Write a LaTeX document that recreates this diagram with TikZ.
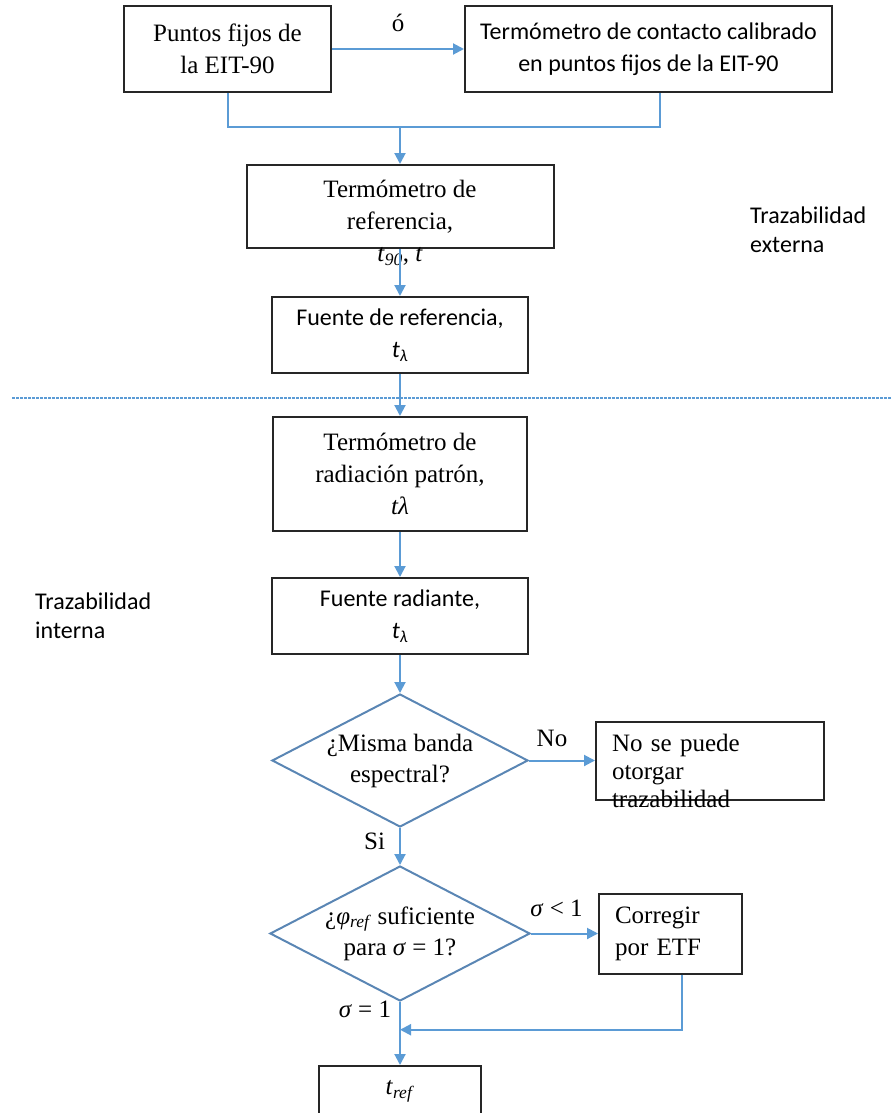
\documentclass[tikz,border=0pt]{standalone}
\usepackage{fontspec}
\setmainfont{Liberation Serif}
\newfontfamily\calibri{Carlito}
\usetikzlibrary{arrows.meta,positioning,shapes.geometric,calc}
\definecolor{linkblue}{HTML}{5B9BD5}
\definecolor{diagblue}{HTML}{5A86B4}
\definecolor{boxgray}{HTML}{262626}
\newcommand{\tsub}[1]{\textit{t}\textsubscript{\textit{#1}}}

\begin{document}
\begin{tikzpicture}[
  x=1pt, y=1pt,
  serifbox/.style={draw=boxgray, line width=2pt, inner sep=0pt,
                   font=\fontsize{25}{32}\selectfont, align=center},
  sansbox/.style={draw=boxgray, line width=2pt, inner sep=0pt,
                  font=\calibri\fontsize{24}{32}\selectfont, align=center},
  decision/.style={diamond, draw=diagblue, line width=2pt, inner sep=0pt,
                   aspect=1.92, font=\fontsize{25}{31}\selectfont, align=center},
  sidetext/.style={font=\calibri\fontsize{24}{29}\selectfont, align=left,
                   anchor=west, inner sep=0pt},
  lbl/.style={font=\fontsize{25}{30}\selectfont, inner sep=0pt},
  link/.style={-{Triangle[length=11pt,width=11pt]}, line width=2pt, draw=linkblue},
  plain/.style={line width=2pt, draw=linkblue},
  sepline/.style={draw=linkblue, line width=1.4pt, dash pattern=on 2.5pt off 1.5pt}
]
  \useasboundingbox (0,0) rectangle (891,-1113);

  % top row
  \node[serifbox, minimum width=207pt, minimum height=86pt] (fixed) at (227.5,-49)
    {Puntos fijos de\\la EIT-90};
  \node[sansbox, minimum width=367pt, minimum height=86pt, right=132pt of fixed] (contact)
    {Termómetro de contacto calibrado\\en puntos fijos de la EIT-90};

  % external traceability column
  \node[serifbox, minimum width=307pt, minimum height=83pt] (refthermo) at (400,-206.5)
    {\raisebox{-23pt}[0pt][0pt]{\begin{tabular}{@{}c@{}}Termómetro de\\referencia,\\
     \tsub{90}, \textit{t}\end{tabular}}};
  \node[sansbox, minimum width=256pt, minimum height=76pt, below=47pt of refthermo] (refsource)
    {Fuente de referencia,\\\tsub{λ}};

  % internal traceability column
  \node[serifbox, minimum width=254pt, minimum height=114pt, below=42pt of refsource] (radthermo)
    {Termómetro de\\radiación patrón,\\\textit{tλ}};
  \node[sansbox, minimum width=256pt, minimum height=76pt, below=45pt of radthermo] (radsource)
    {Fuente radiante,\\\tsub{λ}};
  \node[decision, minimum width=256pt, minimum height=133pt, below=38pt of radsource] (band)
    {¿Misma banda\\espectral?};
  \node[serifbox, text width=196pt, inner xsep=16pt, minimum height=78pt, align=left,
        font=\fontsize{25}{28}\selectfont, right=66pt of band] (notrace)
    {\raisebox{-20pt}[0pt][0pt]{\begin{tabular}{@{}l@{}}No se puede\\otorgar\\
     trazabilidad\end{tabular}}};
  \node[decision, minimum width=260pt, minimum height=135pt, below=37pt of band] (sigma)
    {¿\textit{φ}\textsubscript{\textit{ref}} suficiente\\para \textit{σ} = 1?};
  \node[serifbox, text width=111pt, inner xsep=16pt, minimum height=80pt, align=left,
        right=67pt of sigma] (etf)
    {Corregir\\por ETF};
  \node[serifbox, minimum width=162pt, minimum height=50pt, below=63pt of sigma] (tref)
    {\tsub{ref}};

  % side labels
  \node[sidetext] (external) at (750,-230) {Trazabilidad\\externa};
  \node[sidetext] (internal) at (35,-616) {Trazabilidad\\interna};

  % separator
  \coordinate (sepL) at (12,-398);
  \coordinate (sepR) at (891,-398);
  \draw[sepline] (sepL) -- (sepR);

  % connectors
  \coordinate (merge) at (400,-127);
  \coordinate (join) at ($(sigma.south)!0.44!(tref.north)$);
  \draw[link] (fixed) -- node[lbl, midway, above=16pt] {ó} (contact);
  \draw[plain] (fixed.south) |- (merge) -| ([xshift=11pt]contact.south);
  \draw[link] (merge) -- (refthermo);
  \draw[link] (refthermo) -- (refsource);
  \draw[link] (refsource) -- (radthermo);
  \draw[link] (radthermo) -- (radsource);
  \draw[link] (radsource) -- (band);
  \draw[link] (band) -- node[lbl, midway, above=13pt, xshift=-10pt] {No} (notrace);
  \draw[link] (band) -- node[lbl, pos=0.35, left=14pt] {Si} (sigma);
  \draw[link] (sigma) -- node[lbl, midway, above=16pt, xshift=-8pt] {\textit{σ} < 1} (etf);
  \draw[link] (sigma) -- node[lbl, pos=0.12, left=8pt] {\textit{σ} = 1} (tref);
  \draw[link] ([xshift=11pt]etf.south) |- (join);
\end{tikzpicture}
\end{document}
